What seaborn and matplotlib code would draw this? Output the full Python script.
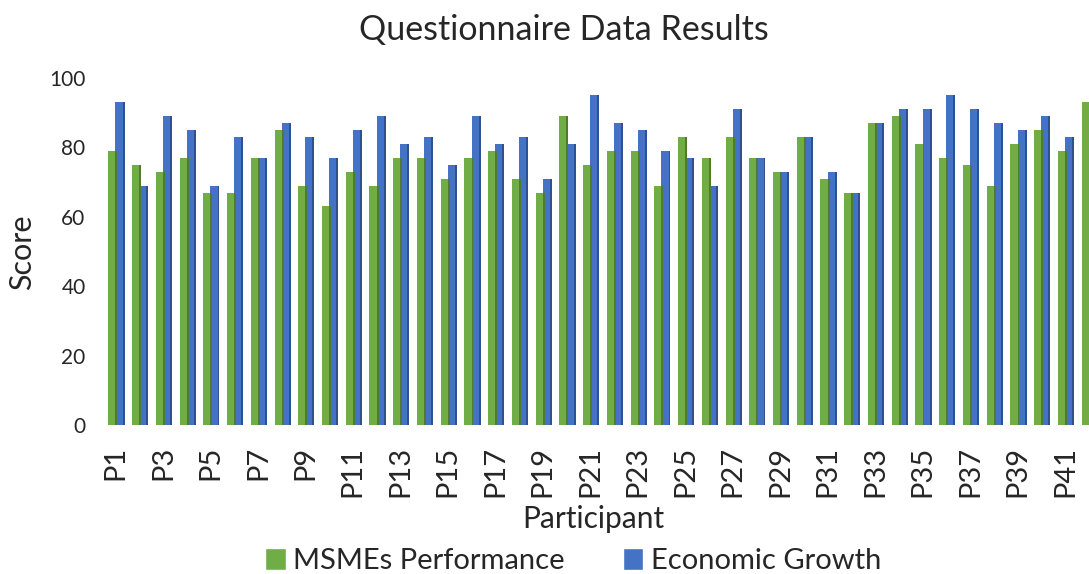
import numpy as np
import pandas as pd
import matplotlib
matplotlib.use("Agg")
import matplotlib.pyplot as plt
import seaborn as sns
from matplotlib.patches import Rectangle, Patch

participants = [f"P{i}" for i in range(1, 43)]
msmes_performance = [79, 75, 73, 77, 67, 67, 77, 85, 69, 63,
                     73, 69, 77, 77, 71, 77, 79, 71, 67, 89,
                     75, 79, 79, 69, 83, 77, 83, 77, 73, 83,
                     71, 67, 87, 89, 81, 77, 75, 69, 81, 85,
                     79, 93]
economic_growth = [93, 69, 89, 85, 69, 83, 77, 87, 83, 77,
                   85, 89, 81, 83, 75, 89, 81, 83, 71, 81,
                   95, 87, 85, 79, 77, 69, 91, 77, 73, 83,
                   73, 67, 87, 91, 91, 95, 91, 87, 85, 89,
                   83, 97]
series_names = ["MSMEs Performance", "Economic Growth"]
y_ticks = [0, 20, 40, 60, 80, 100]

df = pd.DataFrame({
    "Participant": participants * 2,
    "Score": msmes_performance + economic_growth,
    "Series": [series_names[0]] * len(participants) + [series_names[1]] * len(participants),
})

sns.set_theme(style="white")
plt.rcParams["font.family"] = ["Lato", "DejaVu Sans"]

green, blue = "#70AD47", "#4472C4"
green_side, blue_side = "#4E7A31", "#2F528F"

fig = plt.figure(figsize=(10.89, 5.74), dpi=100)
ax = fig.add_axes([103.6 / 1089, (574 - 425) / 574, 997 / 1089, (425 - 78) / 574])

sns.barplot(data=df, x="Participant", y="Score", hue="Series", order=participants,
            hue_order=series_names, palette=[green, blue], width=0.6, ax=ax,
            legend=False, saturation=1, linewidth=0)

# pseudo-3D dark side strip, derived from each bar's geometry
for p in list(ax.patches):
    x, w, h = p.get_x(), p.get_width(), p.get_height()
    fc = matplotlib.colors.to_hex(p.get_facecolor())
    sc = green_side if fc.lower() == green.lower() else blue_side
    ax.add_patch(Rectangle((x + w, 0), w * 0.27, h, facecolor=sc, edgecolor="none",
                           zorder=p.get_zorder()))

ax.set_xlim(-0.5, len(participants) - 0.5)
ax.set_ylim(0, 100)
ax.set_yticks(y_ticks)
ax.set_yticklabels([str(t) for t in y_ticks], fontsize=15)
ax.set_xticks(range(0, len(participants), 2))
ax.set_xticklabels(participants[::2], rotation=90, fontsize=21)
ax.tick_params(axis="y", length=0, pad=13)
ax.tick_params(axis="x", length=0, pad=15)
for s in ax.spines.values():
    s.set_visible(False)
ax.set_xlabel("")
ax.set_ylabel("")

fig.text(564 / 1089, 1 - 30 / 574, "Questionnaire Data Results", ha="center", va="center", fontsize=24.5)
fig.text(22 / 1089, 1 - 252 / 574, "Score", rotation=90, ha="center", va="center", fontsize=22)
fig.text(593 / 1089, 1 - 519 / 574, "Participant", ha="center", va="center", fontsize=21.5)

handles = [Patch(facecolor=green), Patch(facecolor=blue)]
fig.legend(handles, series_names, loc="center", bbox_to_anchor=(573 / 1089, 1 - 561 / 574),
           ncol=2, frameon=False, fontsize=21, handlelength=0.7, handleheight=0.75,
           handletextpad=0.25, columnspacing=2.0)

fig.savefig("out.png", dpi=100)
